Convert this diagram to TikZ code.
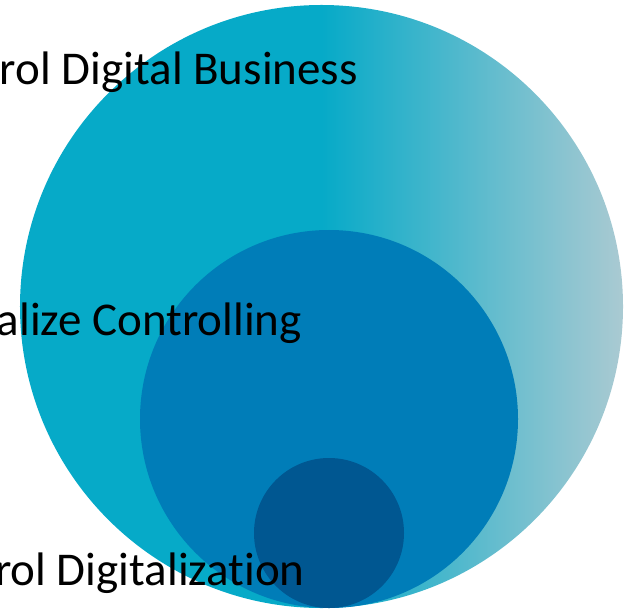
\documentclass[tikz,border=0pt]{standalone}
\usepackage{fontspec}
\setmainfont{Carlito}[Ligatures=NoCommon]
\definecolor{cyanA}{RGB}{6,170,200}
\definecolor{greyB}{RGB}{170,202,210}
\definecolor{midblue}{RGB}{0,125,184}
\definecolor{darkblue}{RGB}{0,87,145}
\tikzset{
  disc/.style={circle, inner sep=0pt, draw=none},
  lbl/.style={anchor=base east, inner sep=0pt, text=black, font=\fontsize{47bp}{56bp}\selectfont}
}
\begin{document}
\begin{tikzpicture}[x=1bp,y=-1bp]
\useasboundingbox (0,0) rectangle (630,610);
\node[disc, minimum size=603bp, left color=cyanA, right color=greyB, middle color=cyanA] (outer) at (321.5,306.5) {};
\node[disc, minimum size=378bp, fill=midblue] (middle) at (329,419) {};
\node[disc, minimum size=150bp, fill=darkblue] (inner) at (329,533) {};
\node[lbl] (t1) at (358,85) {rol Digital Business};
\node[lbl] (t2) at (302,335) {alize Controlling};
\node[lbl] (t3) at (305,585) {rol Digitalizat\kern0pt ion};
\end{tikzpicture}
\end{document}
